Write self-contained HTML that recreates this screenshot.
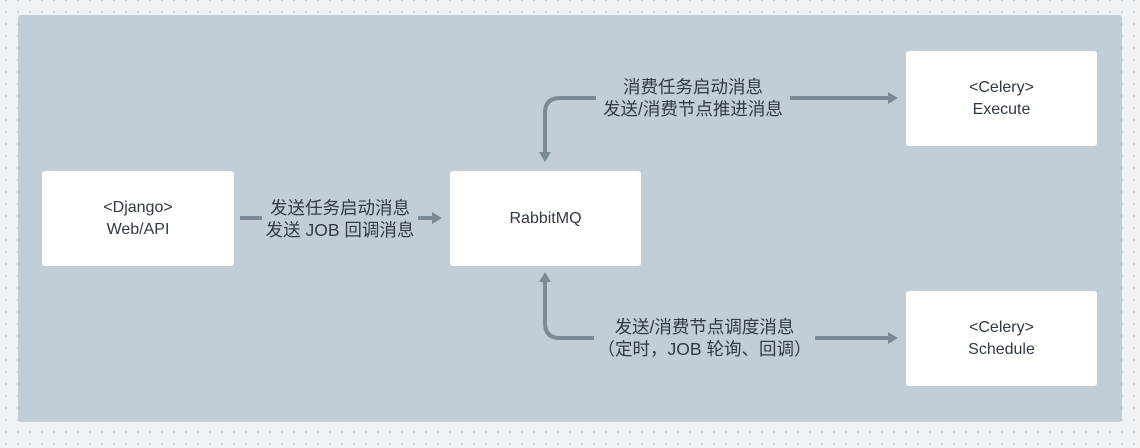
<!DOCTYPE html>
<html><head><meta charset="utf-8"><style>
html,body{margin:0;padding:0}
body{width:1140px;height:448px;overflow:hidden;position:relative;background-color:#eff3f6;
background-image:radial-gradient(circle,#c9d3dc 1px,transparent 1.3px);background-size:12px 12px;background-position:0 -6px;
font-family:"Liberation Sans","Noto Sans CJK SC",sans-serif}
.panel{position:absolute;left:18px;top:15px;width:1104px;height:407px;background:#c1ced7;border-radius:3px}
.box{position:absolute;background:#fff;border-radius:3px;display:flex;align-items:center;justify-content:center;text-align:center;font-size:16px;line-height:22px;color:#2f3a45}
.lbl{position:absolute;text-align:center;font-size:17.5px;line-height:22px;color:#333a42;white-space:nowrap}
svg{position:absolute;left:0;top:0}
</style></head><body>
<div class="panel"></div>
<div class="box" style="left:42px;top:171px;width:192px;height:95px">&lt;Django&gt;<br>Web/API</div>
<div class="box" style="left:450px;top:171px;width:191px;height:95px">RabbitMQ</div>
<div class="box" style="left:906px;top:51px;width:191px;height:95px">&lt;Celery&gt;<br>Execute</div>
<div class="box" style="left:906px;top:291px;width:191px;height:95px">&lt;Celery&gt;<br>Schedule</div>
<svg width="1140" height="448" fill="none" stroke="#7a8a97" stroke-width="4">
<path d="M240 218H262"/>
<path d="M418 218H434"/><path d="M432 212L442 218L432 224Z" fill="#7a8a97" stroke="none"/>
<path d="M596 98H560Q545 98 545 113V154"/><path d="M539 152L545 162L551 152Z" fill="#7a8a97" stroke="none"/>
<path d="M790 98H890"/><path d="M888 92L898 98L888 104Z" fill="#7a8a97" stroke="none"/>
<path d="M594 338H560Q545 338 545 323V280"/><path d="M539 282L545 272L551 282Z" fill="#7a8a97" stroke="none"/>
<path d="M815 338H890"/><path d="M888 332L898 338L888 344Z" fill="#7a8a97" stroke="none"/>
</svg>
<div class="lbl" style="left:262px;top:197px;width:156px">发送任务启动消息<br>发送 JOB 回调消息</div>
<div class="lbl" style="left:596px;top:76px;width:194px">消费任务启动消息<br>发送/消费节点推进消息</div>
<div class="lbl" style="left:594px;top:316px;width:221px">发送/消费节点调度消息<br>（定时，JOB 轮询、回调）</div>
</body></html>
